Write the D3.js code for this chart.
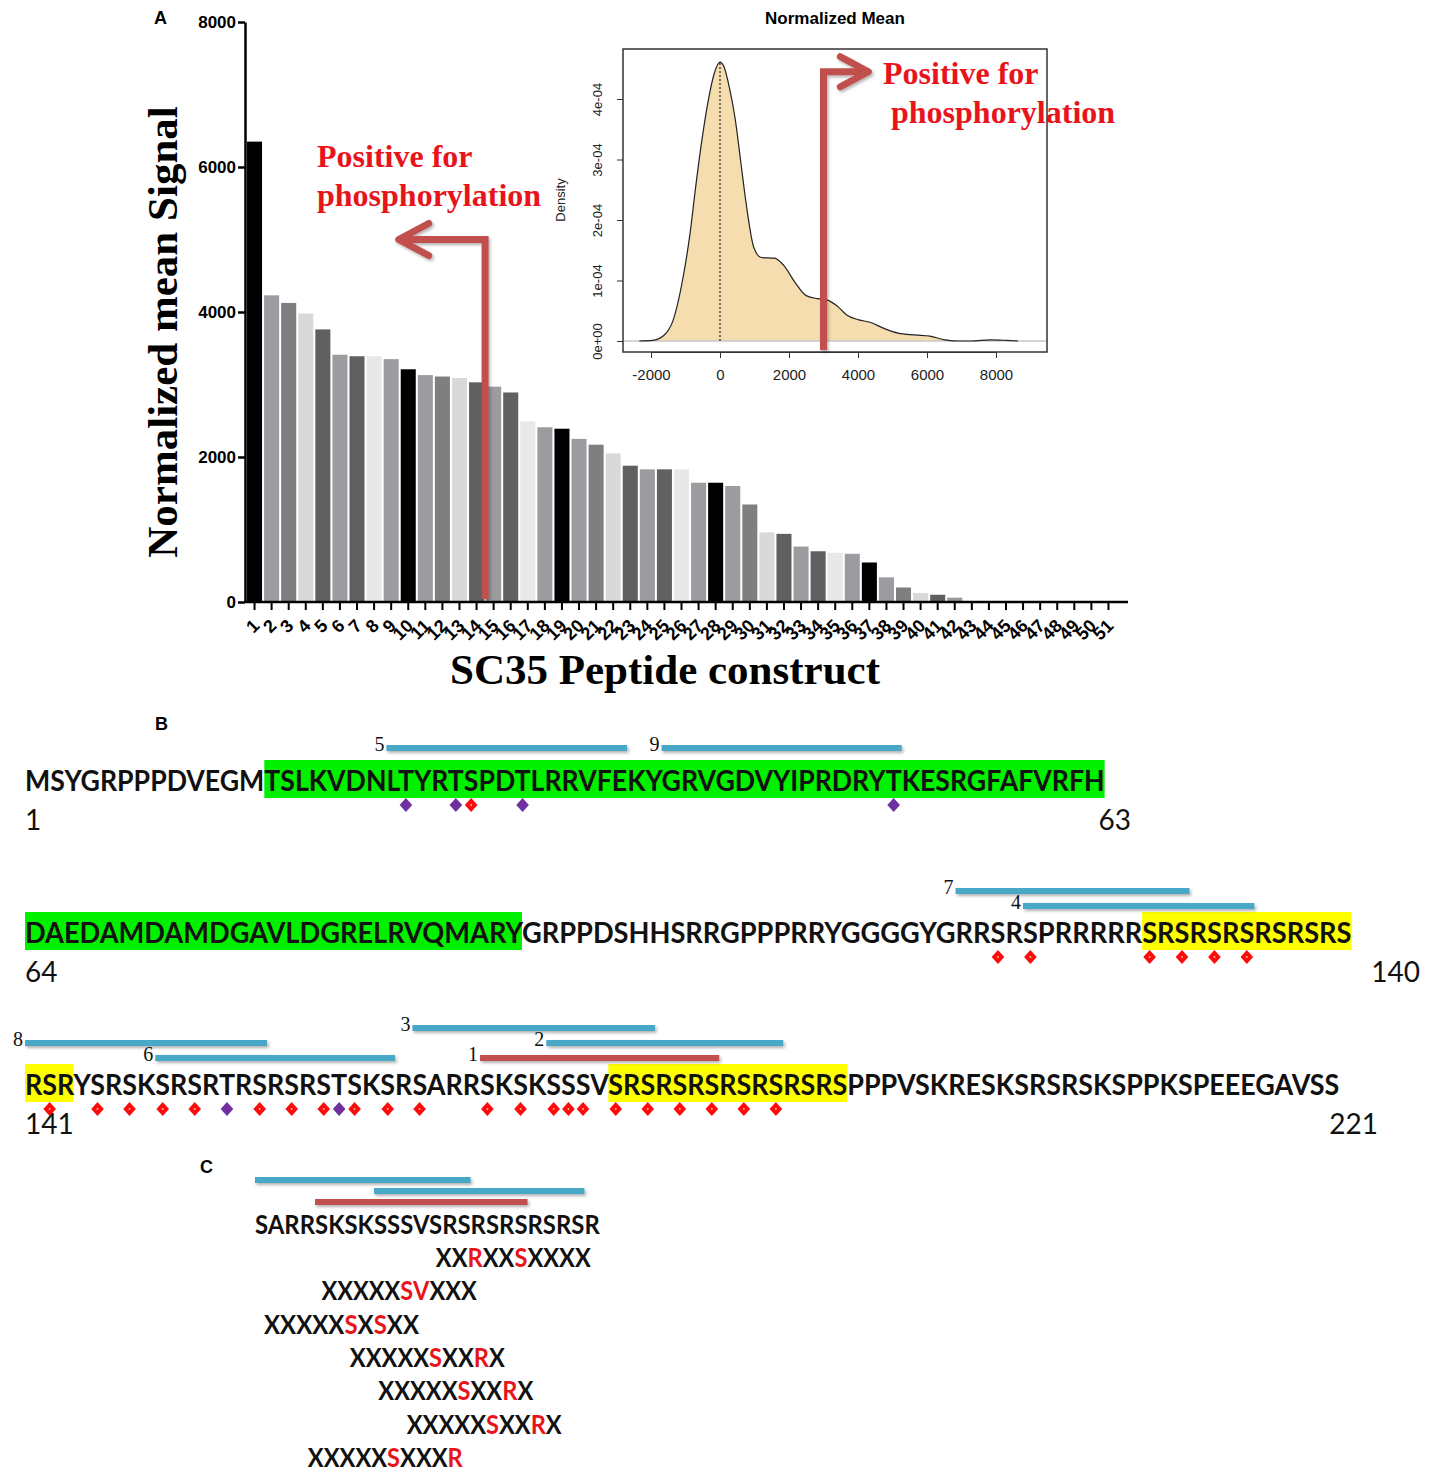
<!DOCTYPE html>
<html>
<head>
<meta charset="utf-8">
<script src="https://cdn.jsdelivr.net/npm/d3@7"></script>
<style>
  body { margin: 0; background: white; }
</style>
</head>
<body>
<div id="container"></div>
<script>
let w = 1431;
let h = 1480;

// ---------- Panel A: bar chart data
let constructs = ["1", "2", "3", "4", "5", "6", "7", "8", "9", "10",
  "11", "12", "13", "14", "15", "16", "17", "18", "19", "20",
  "21", "22", "23", "24", "25", "26", "27", "28", "29", "30",
  "31", "32", "33", "34", "35", "36", "37", "38", "39", "40",
  "41", "42", "43", "44", "45", "46", "47", "48", "49", "50", "51"];
let signal = [6350, 4230, 4125, 3980, 3760, 3410, 3390, 3390, 3350, 3210,
  3130, 3110, 3090, 3030, 2970, 2890, 2490, 2410, 2390, 2250,
  2170, 2050, 1880, 1830, 1830, 1830, 1645, 1645, 1600, 1345,
  960, 940, 765, 700, 680, 665, 545, 340, 200, 125,
  100, 60, 0, 0, 0, 0, 0, 0, 0, 0, 0];
let signalTicks = [0, 2000, 4000, 6000, 8000];
let barShades = ["#000000", "#9c9ca0", "#7f7f7f", "#d9d9d9", "#606060", "#9c9ca0", "#606060", "#e8e8e8", "#9c9ca0"];

// ---------- inset: density of normalized mean (density in units of 1e-4)
let densityX = [-2340, -1960, -1630, -1360, -1087, -870, -707, -543, -326, -163,
  0, 109, 272, 435, 598, 761, 978, 1196, 1576, 1848,
  2174, 2500, 2826, 3098, 3370, 3696, 4022, 4348, 4783, 5163,
  5652, 6087, 6522, 6957, 7283, 7826, 8315, 8641];
let densityY = [0, 0.01, 0.09, 0.34, 1.0, 1.77, 2.54, 3.25, 4.02, 4.43,
  4.61, 4.54, 4.19, 3.69, 2.98, 2.26, 1.55, 1.38, 1.37, 1.25,
  0.97, 0.75, 0.70, 0.68, 0.59, 0.42, 0.35, 0.31, 0.20, 0.13,
  0.10, 0.08, 0.02, 0, 0, 0.02, 0.01, 0];
let insetXTicks = [-2000, 0, 2000, 4000, 6000, 8000];
let insetYTicks = [0, 1, 2, 3, 4];
let insetYLabels = ["0e+00", "1e-04", "2e-04", "3e-04", "4e-04"];
let cutoff = 3000;

// ---------- Panel B: SC35 sequence
let seqLines = [
  "MSYGRPPPDVEGMTSLKVDNLTYRTSPDTLRRVFEKYGRVGDVYIPRDRYTKESRGFAFVRFH",
  "DAEDAMDAMDGAVLDGRELRVQMARYGRPPDSHHSRRGPPPRRYGGGGYGRRSRSPRRRRRSRSRSRSRSRSRS",
  "RSRYSRSKSRSRTRSRSRSTSKSRSARRSKSKSSSVSRSRSRSRSRSRSRSPPPVSKRESKSRSRSKSPPKSPEEEGAVSS"
];
let lineStartLabels = ["1", "64", "141"];
let lineEndLabels = ["63", "140", "221"];

// highlighted regions (line, first, last residue on that line)
let regionLine = [0, 1, 1, 2, 2];
let regionFrom = [14, 1, 62, 1, 37];
let regionTo = [63, 26, 74, 3, 51];
let regionKind = ["RRM", "RRM", "SR", "SR", "SR"];

// predicted phospho sites (line, residue on that line)
let siteLine = [0, 0, 0, 0, 0,
  1, 1, 1, 1, 1, 1,
  2, 2, 2, 2, 2, 2, 2, 2, 2, 2, 2, 2, 2, 2, 2, 2, 2, 2, 2, 2, 2, 2, 2, 2];
let sitePos = [22, 25, 26, 29, 51,
  53, 55, 62, 64, 66, 68,
  2, 5, 7, 9, 11, 13, 15, 17, 19, 20, 21, 23, 25, 29, 31, 33, 34, 35, 37, 39, 41, 43, 45, 47];

// peptide constructs
let peptideIds = ["5", "9", "7", "4", "8", "6", "3", "2", "1"];
let peptideLine = [0, 0, 1, 1, 2, 2, 2, 2, 2];
let peptideFrom = [21, 38, 51, 55, 1, 9, 25, 33, 29];
let peptideTo = [35, 51, 64, 68, 15, 23, 39, 47, 43];
let peptideTrack = [0, 0, 1, 0, 1, 0, 2, 1, 0];
let positivePeptides = ["1"];

// ---------- Panel C: motifs
let motifFrom = 25;   // residue on line 3 where the C sequence begins
let motifTo = 48;
let motifPeptides = ["3", "2", "1"];
let motifPatterns = ["XXRXXSXXXX", "XXXXXSVXXX", "XXXXXSXSXX", "XXXXXSXXRX", "XXXXXSXXRX", "XXXXXSXXRX", "XXXXXSXXXR"];
let motifSites = [19, 11, 7, 13, 15, 17, 10];

// ---------- styles
let red = "#e8141b";
let arrowRed = "#c0504d";
let blue = "#4aa8c6";
let regionColor = { RRM: "#00f000", SR: "#ffff00" };
let serif = "'Liberation Serif', 'Times New Roman', serif";
let sans = "'Liberation Sans', Arial, sans-serif";
let seqFont = "Lato, 'Open Sans', sans-serif";

let svg = d3.select("#container")
  .append("svg")
  .attr("width", w)
  .attr("height", h)
  .style("background-color", "white");

let defs = svg.append("defs");
defs.append("filter")
  .attr("id", "soft")
  .attr("filterUnits", "userSpaceOnUse")
  .attr("x", 0).attr("y", 0).attr("width", w).attr("height", h)
  .append("feDropShadow")
  .attr("dx", 1.5).attr("dy", 2).attr("stdDeviation", 1.5)
  .attr("flood-color", "#000").attr("flood-opacity", 0.3);

// ================= Panel A =================
let xBar = d3.scaleBand().domain(constructs).range([246, 1117]).paddingInner(0.12).paddingOuter(0.06);
let yBar = d3.scaleLinear().domain([0, 8000]).range([602, 22]);

svg.append("text").text("A")
  .attr("x", 154).attr("y", 24)
  .style("font-family", sans).style("font-weight", "700").style("font-size", "18px");

svg.append("g").selectAll("rect").data(signal).enter()
  .append("rect")
  .attr("x", function(d, i) { return xBar(constructs[i]); })
  .attr("y", function(d) { return yBar(d); })
  .attr("width", xBar.bandwidth())
  .attr("height", function(d) { return yBar(0) - yBar(d); })
  .attr("fill", function(d, i) { return barShades[i % barShades.length]; });

let yAxis = svg.append("g")
  .attr("transform", "translate(245,0)")
  .call(d3.axisLeft(yBar).tickValues(signalTicks).tickSize(7).tickSizeOuter(0).tickFormat(d3.format("d")));
yAxis.select(".domain").attr("stroke-width", 2.5);
yAxis.selectAll("line").attr("stroke-width", 2.5);
yAxis.selectAll("text")
  .attr("x", -9)
  .style("font-family", sans).style("font-weight", "700").style("font-size", "17px");

let xAxis = svg.append("g")
  .attr("transform", "translate(0,602)")
  .call(d3.axisBottom(xBar).tickSize(8).tickSizeOuter(0));
xAxis.select(".domain").attr("d", "M244,0H1128").attr("stroke-width", 2.5);
xAxis.selectAll("line").attr("stroke-width", 2);
xAxis.selectAll("text")
  .attr("x", 0).attr("y", 0).attr("dy", 0)
  .attr("transform", "translate(6,25) rotate(-45)")
  .style("text-anchor", "end")
  .style("font-family", sans).style("font-weight", "700").style("font-size", "18px");

svg.append("text")
  .text("Normalized mean Signal")
  .attr("transform", "translate(177,332) rotate(-90)")
  .attr("text-anchor", "middle")
  .style("font-family", serif).style("font-weight", "700").style("font-size", "43px");

svg.append("text")
  .text("SC35 Peptide construct")
  .attr("x", 665).attr("y", 684)
  .attr("text-anchor", "middle")
  .style("font-family", serif).style("font-weight", "700").style("font-size", "43px");

// arrow in bar chart
let arrowX = (xBar("14") + xBar.bandwidth() + xBar("15")) / 2;
let arrowY = yBar(5000);
let arrowTip = xBar("9") + xBar.bandwidth();
let arrowG = svg.append("g").attr("filter", "url(#soft)");
arrowG.append("path")
  .attr("d", "M" + arrowX + "," + (yBar(0) - 3) + "V" + arrowY + "H" + (arrowTip + 4))
  .attr("fill", "none").attr("stroke", arrowRed).attr("stroke-width", 7);
arrowG.append("path")
  .attr("d", "M" + (arrowTip + 30) + "," + (arrowY - 16) + "L" + arrowTip + "," + arrowY + "L" + (arrowTip + 30) + "," + (arrowY + 16))
  .attr("fill", "none").attr("stroke", arrowRed).attr("stroke-width", 7)
  .attr("stroke-linecap", "round").attr("stroke-linejoin", "round");

svg.append("text").text("Positive for")
  .attr("x", 317).attr("y", 167)
  .attr("fill", red)
  .style("font-family", serif).style("font-weight", "700").style("font-size", "32px");
svg.append("text").text("phosphorylation")
  .attr("x", 317).attr("y", 206)
  .attr("fill", red)
  .style("font-family", serif).style("font-weight", "700").style("font-size", "32px");

// ================= inset =================
let xIn = d3.scaleLinear().domain([-2000, 8000]).range([651, 996]);
let yIn = d3.scaleLinear().domain([0, 4]).range([341, 99]);
let inset = svg.append("g");

inset.append("text").text("Normalized Mean")
  .attr("x", 835).attr("y", 24)
  .attr("text-anchor", "middle")
  .style("font-family", sans).style("font-weight", "700").style("font-size", "17px");

let densIdx = d3.range(densityX.length);
inset.append("path")
  .attr("d", d3.area()
    .x(function(i) { return xIn(densityX[i]); })
    .y0(yIn(0))
    .y1(function(i) { return yIn(densityY[i]); })
    .curve(d3.curveMonotoneX)(densIdx))
  .attr("fill", "#f6ddb0");

inset.append("line")
  .attr("x1", 623).attr("x2", 1047)
  .attr("y1", yIn(0)).attr("y2", yIn(0))
  .attr("stroke", "#c8c8c8").attr("stroke-width", 1.5);

inset.append("path")
  .attr("d", d3.line()
    .x(function(i) { return xIn(densityX[i]); })
    .y(function(i) { return yIn(densityY[i]); })
    .curve(d3.curveMonotoneX)(densIdx))
  .attr("fill", "none").attr("stroke", "#222").attr("stroke-width", 1.2);

inset.append("line")
  .attr("x1", xIn(0)).attr("x2", xIn(0))
  .attr("y1", yIn(0)).attr("y2", yIn(d3.max(densityY)))
  .attr("stroke", "#222").attr("stroke-width", 1.2).attr("stroke-dasharray", "2,2");

inset.append("rect")
  .attr("x", 623).attr("y", 49).attr("width", 424).attr("height", 303)
  .attr("fill", "none").attr("stroke", "#333").attr("stroke-width", 1.5);

let inX = inset.append("g")
  .attr("transform", "translate(0,352)")
  .call(d3.axisBottom(xIn).tickValues(insetXTicks).tickSize(6).tickSizeOuter(0)
    .tickFormat(function(d) { return String(d); }));
inX.select(".domain").attr("stroke", "#333");
inX.selectAll("line").attr("stroke", "#333");
inX.selectAll("text").attr("y", 17).attr("dy", "0.71em")
  .attr("fill", "#222")
  .style("font-family", sans).style("font-size", "15px");

let inY = inset.append("g")
  .attr("transform", "translate(623,0)")
  .call(d3.axisLeft(yIn).tickValues(insetYTicks).tickSize(6).tickSizeOuter(0)
    .tickFormat(function(d, i) { return insetYLabels[i]; }));
inY.select(".domain").remove();
inY.selectAll("line").attr("stroke", "#333");
inY.selectAll("text")
  .attr("x", 0).attr("dy", 0)
  .attr("transform", "translate(-21,0) rotate(-90)")
  .style("text-anchor", "middle")
  .attr("fill", "#222")
  .style("font-family", sans).style("font-size", "13px");

inset.append("text").text("Density")
  .attr("transform", "translate(565,200) rotate(-90)")
  .attr("text-anchor", "middle")
  .attr("fill", "#222")
  .style("font-family", sans).style("font-size", "13px");

// inset arrow
let cutX = xIn(cutoff);
let cutTop = yIn(4.45);
let cutTip = xIn(4300);
let arrow2 = svg.append("g").attr("filter", "url(#soft)");
arrow2.append("path")
  .attr("d", "M" + cutX + ",350V" + cutTop + "H" + (cutTip - 4))
  .attr("fill", "none").attr("stroke", arrowRed).attr("stroke-width", 7);
arrow2.append("path")
  .attr("d", "M" + (cutTip - 28) + "," + (cutTop - 15) + "L" + cutTip + "," + cutTop + "L" + (cutTip - 28) + "," + (cutTop + 15))
  .attr("fill", "none").attr("stroke", arrowRed).attr("stroke-width", 7)
  .attr("stroke-linecap", "round").attr("stroke-linejoin", "round");

svg.append("text").text("Positive for")
  .attr("x", 883).attr("y", 84)
  .attr("fill", red)
  .style("font-family", serif).style("font-weight", "700").style("font-size", "32px");
svg.append("text").text("phosphorylation")
  .attr("x", 891).attr("y", 123)
  .attr("fill", red)
  .style("font-family", serif).style("font-weight", "700").style("font-size", "32px");

// ================= Panel B =================
svg.append("text").text("B")
  .attr("x", 155).attr("y", 730)
  .style("font-family", sans).style("font-weight", "700").style("font-size", "18px");

// puts a string on one line, squeezed to a width, and returns residue positions
function placeText(g, str, x0, baseline, width, size) {
  let t = g.append("text").text(str)
    .attr("x", 0).attr("y", 0)
    .attr("fill", "#111")
    .style("font-family", seqFont).style("font-weight", "700").style("font-size", size + "px");
  let node = t.node();
  let sx = width / node.getComputedTextLength();
  t.attr("transform", "translate(" + x0 + "," + baseline + ") scale(" + sx + ",1)");
  function left(p) { return x0 + sx * node.getStartPositionOfChar(p - 1).x; }
  function right(p) { return x0 + sx * node.getEndPositionOfChar(p - 1).x; }
  return { left: left, right: right, mid: function(p) { return (left(p) + right(p)) / 2; } };
}

let lineX0 = 25;
let lineWidth = [1080, 1327, 1315];
let lineBase = [791, 943, 1095];
let endLabelX = [1131, 1420, 1378];
let trackOffset = [-43, -37, -37];

let regionG = svg.append("g");
let seqG = svg.append("g");
let markG = svg.append("g");

let lines = seqLines.map(function(s, i) {
  return placeText(seqG, s, lineX0, lineBase[i], lineWidth[i], 29);
});

regionG.selectAll("rect").data(regionLine).enter()
  .append("rect")
  .attr("x", function(d, i) { return lines[d].left(regionFrom[i]); })
  .attr("width", function(d, i) { return lines[d].right(regionTo[i]) - lines[d].left(regionFrom[i]); })
  .attr("y", function(d) { return lineBase[d] - 31; })
  .attr("height", 38)
  .attr("fill", function(d, i) { return regionColor[regionKind[i]]; });

seqG.selectAll(".startlab").data(lineStartLabels).enter()
  .append("text").attr("class", "startlab")
  .text(function(d) { return d; })
  .attr("x", lineX0)
  .attr("y", function(d, i) { return lineBase[i] + 39; })
  .attr("fill", "#111")
  .style("font-family", seqFont).style("font-size", "28px");

seqG.selectAll(".endlab").data(lineEndLabels).enter()
  .append("text").attr("class", "endlab")
  .text(function(d) { return d; })
  .attr("x", function(d, i) { return endLabelX[i]; })
  .attr("y", function(d, i) { return lineBase[i] + 39; })
  .attr("text-anchor", "end")
  .attr("fill", "#111")
  .style("font-family", seqFont).style("font-size", "28px");

// phospho-site diamonds: serine red, threonine purple
markG.selectAll(".site").data(siteLine).enter()
  .append("path").attr("class", "site")
  .attr("d", d3.symbol(d3.symbolSquare, 80)())
  .attr("transform", function(d, i) {
    return "translate(" + lines[d].mid(sitePos[i]) + "," + (lineBase[d] + 14) + ") scale(1,1.1) rotate(45)";
  })
  .attr("fill", function(d, i) {
    return seqLines[d][sitePos[i] - 1] === "T" ? "#7030a0" : "#ff0a0a";
  });
markG.selectAll(".dot").data(siteLine).enter()
  .append("circle").attr("class", "dot")
  .attr("cx", function(d, i) { return lines[d].mid(sitePos[i]); })
  .attr("cy", function(d) { return lineBase[d] + 14; })
  .attr("r", 1)
  .attr("fill", function(d, i) { return seqLines[d][sitePos[i] - 1] === "T" ? "#7030a0" : "#ffb0b0"; });

function peptideColor(id) {
  return positivePeptides.indexOf(id) >= 0 ? arrowRed : blue;
}

let pepY = function(i) { return lineBase[peptideLine[i]] + trackOffset[peptideLine[i]] - peptideTrack[i] * 15; };

markG.selectAll(".pep").data(peptideIds).enter()
  .append("rect").attr("class", "pep")
  .attr("x", function(d, i) { return lines[peptideLine[i]].left(peptideFrom[i]); })
  .attr("width", function(d, i) {
    return lines[peptideLine[i]].right(peptideTo[i]) - lines[peptideLine[i]].left(peptideFrom[i]);
  })
  .attr("y", function(d, i) { return pepY(i) - 3; })
  .attr("height", 6)
  .attr("fill", function(d) { return peptideColor(d); })
  .attr("filter", "url(#soft)");

markG.selectAll(".peplab").data(peptideIds).enter()
  .append("text").attr("class", "peplab")
  .text(function(d) { return d; })
  .attr("x", function(d, i) { return lines[peptideLine[i]].left(peptideFrom[i]) - 2; })
  .attr("y", function(d, i) { return pepY(i) + 3; })
  .attr("text-anchor", "end")
  .attr("fill", "#111")
  .style("font-family", serif).style("font-size", "20px");

// ================= Panel C =================
svg.append("text").text("C")
  .attr("x", 200).attr("y", 1173)
  .style("font-family", sans).style("font-weight", "700").style("font-size", "18px");

let cG = svg.append("g");
let cBase = 1234;
let cSeq = seqLines[2].slice(motifFrom - 1, motifTo);
let cLine = placeText(cG, cSeq, 255, cBase, 345, 26);

cG.selectAll(".cpep").data(motifPeptides).enter()
  .append("rect").attr("class", "cpep")
  .attr("x", function(d) {
    let k = peptideIds.indexOf(d);
    return cLine.left(peptideFrom[k] - motifFrom + 1);
  })
  .attr("width", function(d) {
    let k = peptideIds.indexOf(d);
    return cLine.right(Math.min(peptideTo[k], motifTo) - motifFrom + 1) - cLine.left(peptideFrom[k] - motifFrom + 1);
  })
  .attr("y", function(d, i) { return cBase - 57 + i * 11; })
  .attr("height", 6)
  .attr("fill", function(d) { return peptideColor(d); })
  .attr("filter", "url(#soft)");

motifPatterns.forEach(function(pat, k) {
  let t = cG.append("text").attr("x", 0).attr("y", 0)
    .style("font-family", seqFont).style("font-weight", "700").style("font-size", "26px");
  t.selectAll("tspan").data(pat.split("")).enter()
    .append("tspan")
    .text(function(d) { return d; })
    .attr("fill", function(d) { return d === "X" ? "#111" : red; });
  let node = t.node();
  let sx = 155 / node.getComputedTextLength();
  let sIdx = pat.indexOf("S");
  let localMid = (node.getStartPositionOfChar(sIdx).x + node.getEndPositionOfChar(sIdx).x) / 2;
  let tx = cLine.mid(motifSites[k]) - sx * localMid;
  t.attr("transform", "translate(" + tx + "," + (1267 + k * 33.3) + ") scale(" + sx + ",1)");
});
</script>
</body>
</html>
